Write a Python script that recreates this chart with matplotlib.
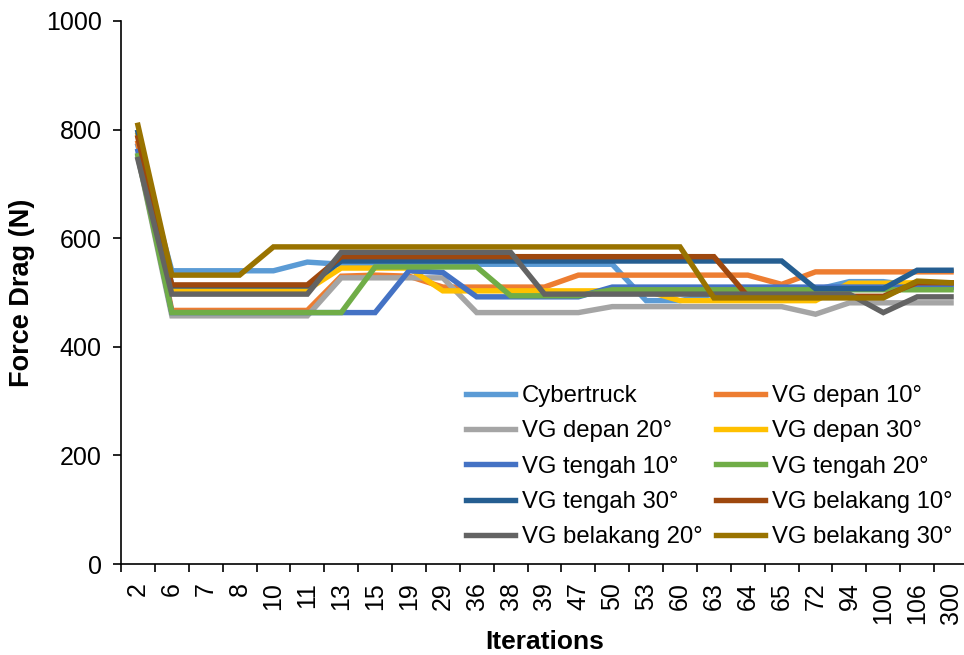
import matplotlib.pyplot as plt
import numpy as np

plt.rcParams['font.family'] = ['Liberation Sans', 'DejaVu Sans']

iterations = ['2', '6', '7', '8', '10', '11', '13', '15', '19', '29', '36', '38', '39',
              '47', '50', '53', '60', '63', '64', '65', '72', '94', '100', '106', '300']

cybertruck = [770, 540, 540, 540, 540, 556, 552, 552, 552, 552, 552, 552, 552,
              552, 552, 485, 485, 497, 497, 497, 505, 520, 520, 512, 510]
depan_10 = [775, 467, 467, 467, 467, 467, 530, 532, 530, 510, 510, 510, 510,
            532, 532, 532, 532, 532, 532, 515, 538, 538, 538, 538, 538]
depan_20 = [750, 457, 457, 457, 457, 457, 527, 527, 527, 527, 463, 463, 463,
            463, 474, 474, 474, 474, 474, 474, 460, 481, 481, 481, 481]
depan_30 = [790, 505, 505, 505, 505, 505, 545, 545, 545, 503, 503, 503, 503,
            503, 503, 503, 485, 485, 485, 485, 485, 517, 517, 518, 518]
tengah_10 = [760, 463, 463, 463, 463, 463, 463, 463, 540, 537, 492, 492, 492,
             492, 510, 510, 510, 510, 510, 510, 510, 510, 510, 510, 510]
tengah_20 = [752, 463, 463, 463, 463, 463, 463, 547, 547, 547, 547, 494, 494,
             494, 505, 505, 505, 505, 505, 505, 505, 505, 505, 505, 505]
tengah_30 = [795, 512, 512, 512, 512, 512, 558, 558, 558, 558, 558, 558, 558,
             558, 558, 558, 558, 558, 558, 558, 507, 507, 507, 541, 541]
belakang_10 = [785, 514, 514, 514, 514, 514, 566, 566, 566, 566, 566, 566, 566,
               566, 566, 566, 566, 566, 493, 493, 493, 493, 493, 518, 518]
belakang_20 = [745, 497, 497, 497, 497, 497, 574, 574, 574, 574, 574, 574, 497,
               497, 497, 497, 497, 497, 497, 497, 497, 497, 463, 492, 492]
belakang_30 = [808, 532, 532, 532, 584, 584, 584, 584, 584, 584, 584, 584, 584,
               584, 584, 584, 584, 490, 490, 490, 490, 490, 490, 521, 518]

series = [
    ('Cybertruck', cybertruck, '#5B9BD5'),
    ('VG depan 10°', depan_10, '#ED7D31'),
    ('VG depan 20°', depan_20, '#A5A5A5'),
    ('VG depan 30°', depan_30, '#FFC000'),
    ('VG tengah 10°', tengah_10, '#4472C4'),
    ('VG tengah 20°', tengah_20, '#70AD47'),
    ('VG tengah 30°', tengah_30, '#255E91'),
    ('VG belakang 10°', belakang_10, '#9E480E'),
    ('VG belakang 20°', belakang_20, '#636363'),
    ('VG belakang 30°', belakang_30, '#997300'),
]

fig = plt.figure(figsize=(9.64, 6.55), dpi=100)
ax = fig.add_axes([121/964, 91/655, 847/964, 543/655])

x = np.arange(len(iterations))
handles = []
for name, vals, col in series:
    h, = ax.plot(x, vals, color=col, lw=3.9, label=name, solid_joinstyle='miter')
    handles.append(h)

ax.set_xlim(-0.5, len(iterations) - 0.5)
ax.set_ylim(0, 1000)
ax.set_yticks(range(0, 1001, 200))
ax.set_xticks(x)
ax.set_xticklabels(iterations, rotation=90)
ax.set_xticks(np.arange(-0.5, len(iterations), 1), minor=True)
ax.tick_params(axis='x', which='major', length=0, pad=13, labelsize=18)
ax.tick_params(axis='x', which='minor', length=6, width=1.2, direction='out')
ax.tick_params(axis='y', length=6, width=1.2, pad=8, labelsize=18)
ax.spines['top'].set_visible(False)
ax.spines['right'].set_visible(False)
ax.spines['left'].set_linewidth(1.2)
ax.spines['bottom'].set_linewidth(1.2)

ax.set_ylabel('Force Drag (N)', fontsize=19.5, fontweight='bold', labelpad=8)
ax.set_xlabel('Iterations', fontsize=19, fontweight='bold', labelpad=4)

order = [0, 2, 4, 6, 8, 1, 3, 5, 7, 9]
ax.legend([handles[i] for i in order], [series[i][0] for i in order],
          ncol=2, frameon=False, fontsize=17.2, loc='upper left',
          bbox_to_anchor=(454/964, 1 - 373/655), bbox_transform=fig.transFigure,
          borderpad=0, handlelength=2.05, handletextpad=0.3,
          columnspacing=0.55, labelspacing=0.56)

fig.savefig('out.png', dpi=100)
